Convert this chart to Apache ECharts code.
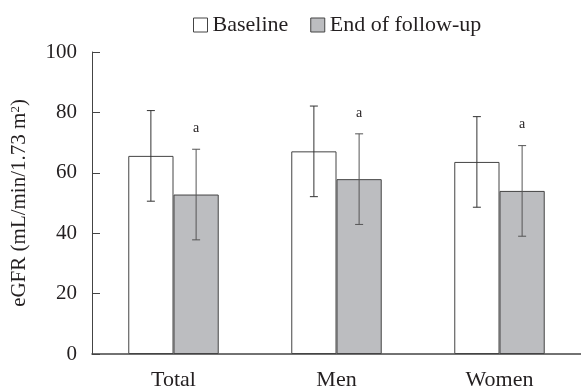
<!DOCTYPE html>
<html>
<head>
<meta charset="utf-8">
<script src="https://cdn.jsdelivr.net/npm/echarts@6/dist/echarts.min.js"></script>
<style>html,body{margin:0;padding:0;background:#fff}#c{width:581px;height:391px}</style>
</head>
<body>
<div id="c"></div>
<script>
var categories = ['Total', 'Men', 'Women'];
var baselineMean = [65.6, 67.1, 63.6];
var baselineSD = [15.0, 15.0, 15.0];
var followMean = [52.8, 57.9, 54.0];
var followSD = [15.0, 15.0, 15.0];
var sigMarks = ['a', 'a', 'a'];
var yTicks = [0, 20, 40, 60, 80, 100];

var FONT = '"Liberation Serif", "DejaVu Serif", serif';
var TXT = '#231f20';
var CAT_GAP = 0.445;

function errData(mean, sd, marks) {
  return mean.map(function (m, i) {
    return [i, m - sd[i], m + sd[i], marks ? marks[i] : ''];
  });
}

function makeErr(side, color) {
  return function (params, api) {
    var i = api.value(0);
    var band = api.size([1, 0])[0];
    var barW = band * (1 - CAT_GAP) / 2;
    var lo = api.coord([i, api.value(1)]);
    var hi = api.coord([i, api.value(2)]);
    var x = lo[0] + side * barW / 2;
    var cap = 4;
    var children = [
      { type: 'line', shape: { x1: x, y1: lo[1], x2: x, y2: hi[1] }, style: { stroke: color, lineWidth: 1 } },
      { type: 'line', shape: { x1: x - cap, y1: lo[1], x2: x + cap, y2: lo[1] }, style: { stroke: color, lineWidth: 1 } },
      { type: 'line', shape: { x1: x - cap, y1: hi[1], x2: x + cap, y2: hi[1] }, style: { stroke: color, lineWidth: 1 } }
    ];
    var mark = api.value(3);
    if (mark) {
      children.push({ type: 'text', style: { text: mark, x: x, y: hi[1] - 21, align: 'center', verticalAlign: 'middle', font: '14px ' + FONT, fill: TXT } });
    }
    return { type: 'group', children: children };
  };
}

var chart = echarts.init(document.getElementById('c'), null, { renderer: 'canvas' });
chart.setOption({
  animation: false,
  backgroundColor: '#fff',
  textStyle: { fontFamily: FONT, color: TXT },
  legend: {
    top: 9, left: 188, itemWidth: 14, itemHeight: 14, itemGap: 22,
    textStyle: { fontFamily: FONT, fontSize: 22, color: TXT },
    data: [
      { name: 'Baseline', icon: 'rect', itemStyle: { color: '#fff', borderColor: '#444', borderWidth: 1 } },
      { name: 'End of follow-up', icon: 'rect', itemStyle: { color: '#bcbdc0', borderColor: '#444', borderWidth: 1 } }
    ]
  },
  grid: { left: 92, top: 52, width: 492, height: 302, containLabel: false },
  xAxis: {
    type: 'category', data: categories,
    axisLine: { lineStyle: { color: '#444', width: 1.5 } },
    axisTick: { show: false },
    axisLabel: { fontFamily: FONT, fontSize: 22, color: TXT, margin: 15 }
  },
  yAxis: {
    type: 'value', min: yTicks[0], max: yTicks[yTicks.length - 1], interval: 20,
    name: '{a|eGFR (mL/min/1.73 m}{s|2}{a|)}',
    nameLocation: 'middle', nameGap: 62, nameRotate: 90,
    nameTextStyle: { rich: { a: { fontFamily: FONT, fontSize: 21, color: TXT }, s: { fontFamily: FONT, fontSize: 13, color: TXT, verticalAlign: 'top', padding: [0, 0, 8, 0] } } },
    axisLine: { show: true, lineStyle: { color: '#444', width: 1 } },
    axisTick: { show: true, inside: true, length: 8, lineStyle: { color: '#444' } },
    splitLine: { show: false },
    axisLabel: { fontFamily: FONT, fontSize: 21, color: TXT, margin: 15 }
  },
  series: [
    { name: 'Baseline', type: 'bar', data: baselineMean, barGap: '0%', barCategoryGap: (CAT_GAP * 100) + '%',
      itemStyle: { color: '#fff', borderColor: '#444', borderWidth: 1 } },
    { name: 'End of follow-up', type: 'bar', data: followMean, barGap: '0%', barCategoryGap: (CAT_GAP * 100) + '%',
      itemStyle: { color: '#bcbdc0', borderColor: '#444', borderWidth: 1 } },
    { type: 'custom', renderItem: makeErr(-1, '#333'), data: errData(baselineMean, baselineSD), z: 5, silent: true },
    { type: 'custom', renderItem: makeErr(1, '#555'), data: errData(followMean, followSD, sigMarks), z: 5, silent: true }
  ]
});
</script>
</body>
</html>
